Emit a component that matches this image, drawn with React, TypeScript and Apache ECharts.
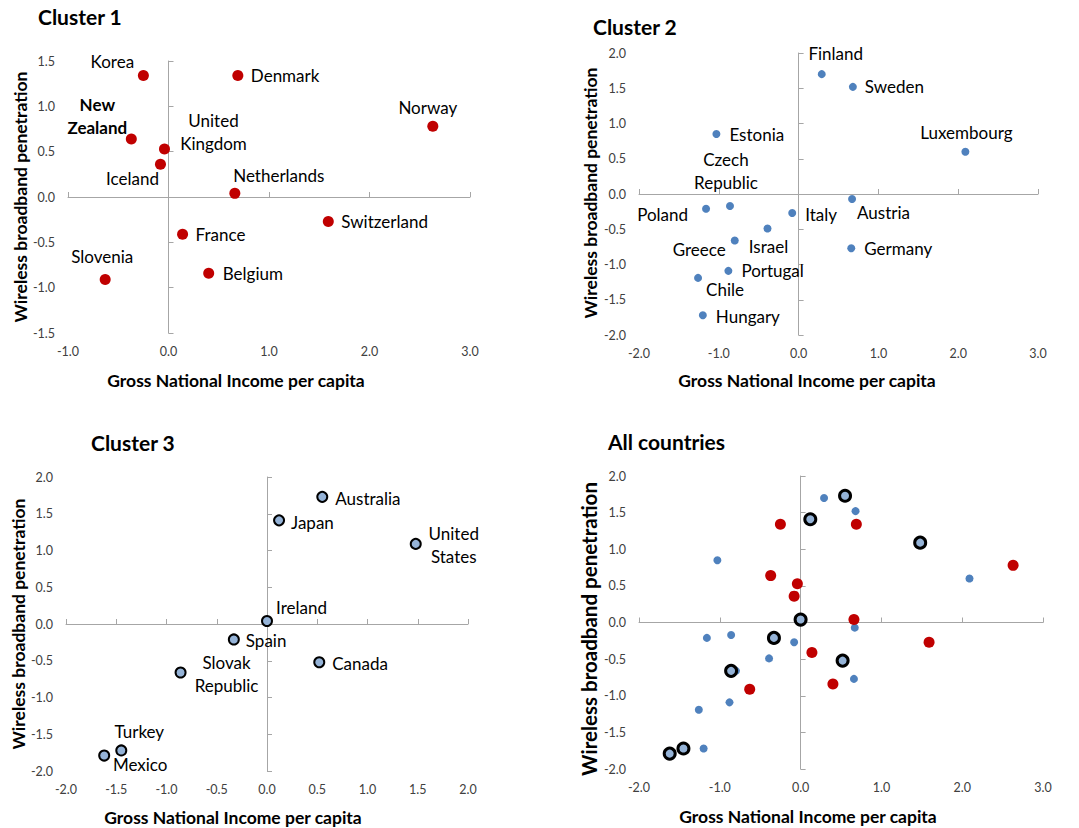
import React, { useEffect, useRef } from "react";
import * as echarts from "echarts";

// ---------- data ----------
const cluster1Names = ["Korea", "Denmark", "Norway", "New Zealand", "United Kingdom", "Iceland", "Netherlands", "Switzerland", "France", "Belgium", "Slovenia"];
const cluster1X = [-0.25, 0.69, 2.63, -0.37, -0.04, -0.08, 0.66, 1.59, 0.14, 0.40, -0.63];
const cluster1Y = [1.34, 1.34, 0.78, 0.64, 0.53, 0.36, 0.04, -0.27, -0.41, -0.84, -0.91];

const cluster2Names = ["Finland", "Sweden", "Luxembourg", "Estonia", "Czech Republic", "Poland", "Italy", "Austria", "Israel", "Greece", "Germany", "Portugal", "Chile", "Hungary"];
const cluster2X = [0.29, 0.68, 2.09, -1.03, -0.86, -1.16, -0.08, 0.67, -0.39, -0.80, 0.66, -0.88, -1.26, -1.20];
const cluster2Y = [1.70, 1.52, 0.60, 0.85, -0.17, -0.21, -0.27, -0.07, -0.49, -0.66, -0.77, -1.09, -1.19, -1.72];

const cluster3Names = ["Australia", "Japan", "United States", "Ireland", "Spain", "Canada", "Slovak Republic", "Turkey", "Mexico"];
const cluster3X = [0.55, 0.12, 1.48, 0.00, -0.33, 0.52, -0.86, -1.45, -1.62];
const cluster3Y = [1.73, 1.41, 1.09, 0.04, -0.21, -0.52, -0.66, -1.72, -1.79];

const panelTitles = ["Cluster 1", "Cluster 2", "Cluster 3", "All countries"];
const xAxisTitle = "Gross National Income per capita";
const yAxisTitle = "Wireless broadband penetration";

// axis ranges per panel: [min, max, interval]
const xRanges = [[-1, 3, 1], [-2, 3, 1], [-2, 2, 0.5], [-2, 3, 1]];
const yRanges = [[-1.5, 1.5, 0.5], [-2, 2, 0.5], [-2, 2, 0.5], [-2, 2, 0.5]];

// ---------- label placement (style only) ----------
// [text, align, dx, dy, bold]
type Place = [string, string, number, number, boolean?];
const place1: Record<string, Place> = {
  "Korea": ["Korea", "center", -31, -14],
  "Denmark": ["Denmark", "left", 13, 0],
  "Norway": ["Norway", "center", -5, -19],
  "New Zealand": ["New\nZealand", "center", -34, -23, true],
  "United Kingdom": ["United\nKingdom", "center", 49, -17],
  "Iceland": ["Iceland", "center", -28, 14],
  "Netherlands": ["Netherlands", "center", 44, -18],
  "Switzerland": ["Switzerland", "left", 13, 0],
  "France": ["France", "left", 13, 0],
  "Belgium": ["Belgium", "left", 14, 0],
  "Slovenia": ["Slovenia", "center", -3, -23],
};
const place2: Record<string, Place> = {
  "Finland": ["Finland", "center", 14, -21],
  "Sweden": ["Sweden", "left", 12, 0],
  "Luxembourg": ["Luxembourg", "center", 1, -19],
  "Estonia": ["Estonia", "left", 13, 0],
  "Czech Republic": ["Czech\nRepublic", "center", -4, -35],
  "Poland": ["Poland", "right", -18, 6],
  "Italy": ["Italy", "left", 13, 1],
  "Austria": ["Austria", "left", 5, 14],
  "Israel": ["Israel", "center", 1, 18],
  "Greece": ["Greece", "right", -9, 9],
  "Germany": ["Germany", "left", 13, 0],
  "Portugal": ["Portugal", "left", 13, 0],
  "Chile": ["Chile", "center", 27, 12],
  "Hungary": ["Hungary", "left", 13, 1],
};
const place3: Record<string, Place> = {
  "Australia": ["Australia", "left", 13, 2],
  "Japan": ["Japan", "left", 12, 2],
  "United States": ["United\nStates", "center", 38, 1],
  "Ireland": ["Ireland", "left", 9, -14],
  "Spain": ["Spain", "left", 12, 1],
  "Canada": ["Canada", "left", 13, 1],
  "Slovak Republic": ["Slovak\nRepublic", "center", 46, 1],
  "Turkey": ["Turkey", "center", 18, -19],
  "Mexico": ["Mexico", "center", 36, 9],
};

const FONT = "Lato";
const RED = "#C00000";
const BLUE = "#4F81BD";
const LIGHT = "#95B3D7";
const AXIS = "#A6A6A6";

// grid rectangles (left, top, width, height)
const grids = [
  { left: 68, top: 61, width: 402, height: 272 },
  { left: 639, top: 53, width: 399, height: 282 },
  { left: 66, top: 477, width: 402, height: 294 },
  { left: 639, top: 476, width: 404, height: 293 },
];

function buildData(names: string[], xs: number[], ys: number[], places?: Record<string, Place>) {
  return names.map((n, i) => {
    const item: any = { name: n, value: [xs[i], ys[i]] };
    if (places && places[n]) {
      const p = places[n];
      item.label = {
        show: true,
        position: "inside",
        formatter: p[0],
        align: p[1],
        verticalAlign: "middle",
        offset: [p[2], p[3]],
        fontWeight: p[4] ? "bold" : "normal",
      };
    }
    return item;
  });
}

export default function App() {
  const ref = useRef<HTMLDivElement>(null);
  useEffect(() => {
    document.body.style.margin = "0";
    const chart = echarts.init(ref.current!, null, { renderer: "svg" });

    const xAxes: any[] = [];
    const yAxes: any[] = [];
    const tickLabel = { color: "#404040", fontSize: 12.5, fontFamily: FONT, formatter: (v: number) => v.toFixed(1) };
    for (let g = 0; g < 4; g++) {
      const [xmin, xmax, xint] = xRanges[g];
      const [ymin, ymax, yint] = yRanges[g];
      xAxes.push({
        type: "value", gridIndex: g, min: xmin, max: xmax, interval: xint, position: "bottom",
        axisLine: { show: false, onZero: false }, axisTick: { show: false }, splitLine: { show: false },
        axisLabel: { ...tickLabel, margin: 12 },
      });
      xAxes.push({
        type: "value", gridIndex: g, min: xmin, max: xmax, interval: xint,
        axisLine: { show: true, onZero: true, lineStyle: { color: AXIS, width: 1 } },
        axisTick: { show: true, length: 5, lineStyle: { color: AXIS } }, splitLine: { show: false },
        axisLabel: { show: false },
      });
      yAxes.push({
        type: "value", gridIndex: g, min: ymin, max: ymax, interval: yint, position: "left",
        axisLine: { show: false, onZero: false }, axisTick: { show: false }, splitLine: { show: false },
        axisLabel: { ...tickLabel, margin: 13 },
      });
      yAxes.push({
        type: "value", gridIndex: g, min: ymin, max: ymax, interval: yint,
        axisLine: { show: true, onZero: true, lineStyle: { color: AXIS, width: 1 } },
        axisTick: { show: true, length: 5, lineStyle: { color: AXIS } }, splitLine: { show: false },
        axisLabel: { show: false },
      });
    }

    const labelBase = { color: "#000", fontSize: 17, fontFamily: FONT, lineHeight: 23 };

    const series: any[] = [
      {
        type: "scatter", xAxisIndex: 0, yAxisIndex: 0, symbolSize: 11,
        itemStyle: { color: RED, opacity: 1 }, label: labelBase,
        data: buildData(cluster1Names, cluster1X, cluster1Y, place1),
      },
      {
        type: "scatter", xAxisIndex: 2, yAxisIndex: 2, symbolSize: 8,
        itemStyle: { color: BLUE, opacity: 1 }, label: labelBase,
        data: buildData(cluster2Names, cluster2X, cluster2Y, place2),
      },
      {
        type: "scatter", xAxisIndex: 4, yAxisIndex: 4, symbolSize: 10,
        itemStyle: { color: LIGHT, borderColor: "#000", borderWidth: 2, opacity: 1 }, label: labelBase,
        data: buildData(cluster3Names, cluster3X, cluster3Y, place3),
      },
      {
        type: "scatter", xAxisIndex: 6, yAxisIndex: 6, symbolSize: 8,
        itemStyle: { color: BLUE, opacity: 1 },
        data: buildData(cluster2Names, cluster2X, cluster2Y),
      },
      {
        type: "scatter", xAxisIndex: 6, yAxisIndex: 6, symbolSize: 11,
        itemStyle: { color: RED, opacity: 1 },
        data: buildData(cluster1Names, cluster1X, cluster1Y),
      },
      {
        type: "scatter", xAxisIndex: 6, yAxisIndex: 6, symbolSize: 11,
        itemStyle: { color: LIGHT, borderColor: "#000", borderWidth: 3, opacity: 1 },
        data: buildData(cluster3Names, cluster3X, cluster3Y),
      },
    ];

    const titlePos = [[38, 16], [593, 26], [91, 442], [608, 441]];
    const xTitlePos = [[236, 380], [807, 380], [233, 817], [808, 816]];
    const yTitlePos = [[20, 197], [590, 193], [18, 624], [589, 629]];
    const graphic: any[] = [];
    for (let g = 0; g < 4; g++) {
      graphic.push({
        type: "text", x: titlePos[g][0], y: titlePos[g][1],
        style: { text: panelTitles[g], fontSize: 21, fontWeight: "bold", fontFamily: FONT, fill: "#000", align: "left", verticalAlign: "middle" },
      });
      graphic.push({
        type: "text", x: xTitlePos[g][0], y: xTitlePos[g][1],
        style: { text: xAxisTitle, fontSize: 17.5, fontWeight: "bold", fontFamily: FONT, fill: "#000", align: "center", verticalAlign: "middle" },
      });
      graphic.push({
        type: "text", x: yTitlePos[g][0], y: yTitlePos[g][1], rotation: Math.PI / 2,
        style: { text: yAxisTitle, fontSize: g === 3 ? 20.5 : 17.5, fontWeight: "bold", fontFamily: FONT, fill: "#000", align: "center", verticalAlign: "middle" },
      });
    }

    chart.setOption({
      animation: false,
      backgroundColor: "#fff",
      grid: grids.map((r) => ({ ...r, containLabel: false })),
      xAxis: xAxes,
      yAxis: yAxes,
      series,
      graphic,
    });
    return () => chart.dispose();
  }, []);
  return <div ref={ref} style={{ width: 1079, height: 828 }} />;
}
